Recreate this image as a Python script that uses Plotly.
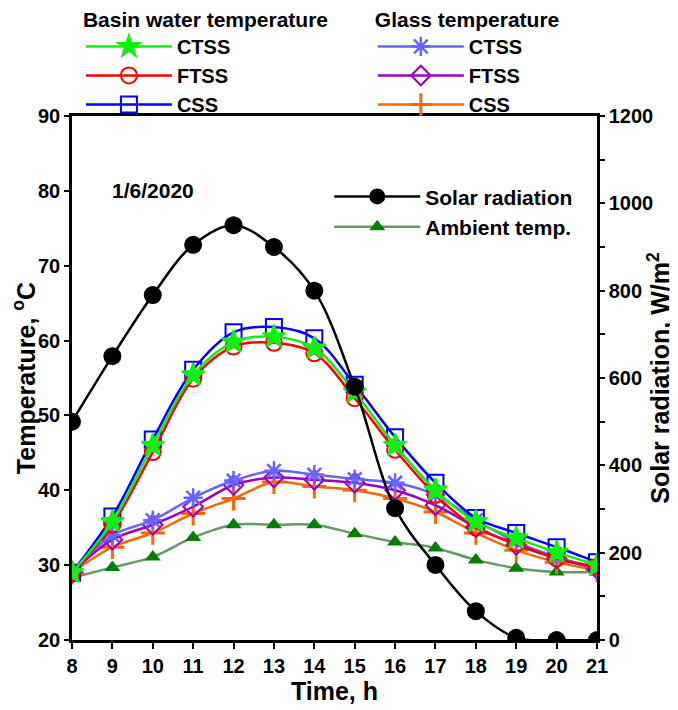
import plotly.graph_objects as go

# hora del día
horas = list(range(8, 22))

# temperatura del agua en la cuenca (°C)
agua_ctss = [29.0, 35.8, 46.0, 55.4, 59.8, 60.5, 59.0, 53.1, 46.0, 40.0, 35.8, 33.6, 31.7, 30.0]
agua_ftss = [29.0, 35.4, 45.1, 54.9, 59.2, 59.7, 58.3, 52.3, 45.4, 39.4, 35.0, 32.9, 30.9, 29.8]
agua_css = [29.0, 36.5, 46.8, 56.1, 61.1, 61.8, 60.3, 54.1, 47.1, 41.0, 36.3, 34.3, 32.4, 30.4]

# temperatura del vidrio (°C)
vidrio_ctss = [29.0, 34.0, 36.0, 39.0, 41.3, 42.6, 42.1, 41.5, 41.0, 39.4, 36.0, 33.1, 31.1, 29.6]
vidrio_ftss = [29.0, 33.4, 35.4, 37.8, 40.7, 41.7, 41.4, 41.0, 40.0, 38.0, 35.1, 32.7, 30.9, 29.5]
vidrio_css = [29.0, 32.4, 34.3, 36.9, 38.9, 41.1, 40.5, 40.0, 38.9, 37.1, 34.3, 32.0, 30.4, 29.3]

# condiciones ambientales
radiacion = [500, 650, 790, 905, 950, 900, 800, 580, 302, 172, 66, 5, 0, 0]
temp_ambiente = [28.3, 29.7, 31.1, 33.7, 35.4, 35.4, 35.4, 34.2, 33.1, 32.3, 30.7, 29.6, 29.1, 29.1]

FUENTE = 'Arial, Liberation Sans, sans-serif'

fig = go.Figure()

fig.add_trace(go.Scatter(
    x=horas, y=radiacion, name='Solar radiation', yaxis='y2', legend='legend3',
    mode='lines+markers', line=dict(color='black', width=2.5, shape='spline'),
    marker=dict(symbol='circle', size=18, color='black'), legendrank=1,
))
fig.add_trace(go.Scatter(
    x=horas, y=temp_ambiente, name='Ambient temp.', legend='legend3',
    mode='lines+markers', line=dict(color='#669966', width=2.5, shape='spline'),
    marker=dict(symbol='triangle-up', size=14, color='#008000'), legendrank=2,
))

series_vidrio = [
    ('CSS', vidrio_css, '#ff6600', 'cross-thin-open', 17, 3),
    ('FTSS', vidrio_ftss, '#9900cc', 'diamond-open', 15, 2),
    ('CTSS', vidrio_ctss, '#6666ff', 'asterisk-open', 16, 2.5),
]
for rank, (nombre, valores, color, simbolo, tam, ancho) in zip([3, 2, 1], series_vidrio):
    fig.add_trace(go.Scatter(
        x=horas, y=valores, name=nombre, legend='legend2', legendrank=rank,
        mode='lines+markers', line=dict(color=color, width=2.5, shape='spline'),
        marker=dict(symbol=simbolo, size=tam, color=color, line=dict(color=color, width=ancho)),
    ))

series_agua = [
    ('CSS', agua_css, '#0000ff', 'square-open', 16),
    ('FTSS', agua_ftss, '#ff0000', 'circle-open', 16),
    ('CTSS', agua_ctss, '#11ee11', 'star', 17),
]
for rank, (nombre, valores, color, simbolo, tam) in zip([3, 2, 1], series_agua):
    fig.add_trace(go.Scatter(
        x=horas, y=valores, name=nombre, legend='legend', legendrank=rank,
        mode='lines+markers', line=dict(color=color, width=2.5, shape='spline'),
        marker=dict(symbol=simbolo, size=tam, color=color, line=dict(color=color, width=2)),
    ))

fuente_leyenda = dict(family=FUENTE, size=20, color='black', weight='bold')
fuente_cabecera = dict(family=FUENTE, size=21, color='black', weight='bold')
fuente_ticks = dict(family=FUENTE, size=20, color='black', weight='bold')
fuente_titulo = dict(family=FUENTE, size=25, color='black', weight='bold')

fig.update_layout(
    width=678,
    height=710,
    plot_bgcolor='white',
    paper_bgcolor='white',
    # la página añade 8 px de margen, por eso l/t son menores
    margin=dict(l=64, r=89, t=108, b=78, autoexpand=False),
    font=dict(family=FUENTE, color='black'),
    xaxis=dict(
        range=[8, 21], dtick=1, tickfont=fuente_ticks, automargin=False,
        title=dict(text='Time, h', font=fuente_titulo, standoff=2),
        showline=True, linecolor='black', linewidth=2.5, mirror=True,
        ticks='outside', ticklen=6, tickwidth=2, tickcolor='black',
        showgrid=False, zeroline=False,
    ),
    yaxis=dict(
        range=[20, 90], dtick=10, tickfont=fuente_ticks, automargin=False,
        title=dict(text='Temperature, <sup>o</sup>C', font=fuente_titulo, standoff=4),
        showline=True, linecolor='black', linewidth=2.5,
        ticks='outside', ticklen=5, tickwidth=2, tickcolor='black',
        showgrid=False, zeroline=False,
    ),
    yaxis2=dict(
        range=[0, 1200], dtick=200, overlaying='y', side='right', tickfont=fuente_ticks,
        automargin=False,
        title=dict(text='Solar radiation, W/m<sup>2</sup>', font=fuente_titulo, standoff=0),
        showline=True, linecolor='black', linewidth=2.5,
        ticks='outside', ticklen=5, tickwidth=2, tickcolor='black',
        minor=dict(dtick=100, ticks='outside', ticklen=5, tickwidth=2, tickcolor='black'),
        showgrid=False, zeroline=False,
    ),
    legend=dict(
        title=dict(text='Basin water temperature', font=fuente_cabecera),
        font=fuente_leyenda, x=0.017, y=1.222, xanchor='left', yanchor='top',
        bgcolor='rgba(0,0,0,0)', itemwidth=86,
    ),
    legend2=dict(
        title=dict(text='Glass temperature', font=fuente_cabecera),
        font=fuente_leyenda, x=0.573, y=1.222, xanchor='left', yanchor='top',
        bgcolor='rgba(0,0,0,0)', itemwidth=86,
    ),
    legend3=dict(
        font=fuente_cabecera, x=0.49, y=0.885, xanchor='left', yanchor='top',
        bgcolor='rgba(0,0,0,0)', itemwidth=86,
    ),
    annotations=[dict(
        text='1/6/2020', x=8.94, y=80, xref='x', yref='y', showarrow=False,
        xanchor='left', yanchor='middle',
        font=dict(family=FUENTE, size=21, color='black', weight='bold'),
    )],
)

fig.write_html('out.html')
